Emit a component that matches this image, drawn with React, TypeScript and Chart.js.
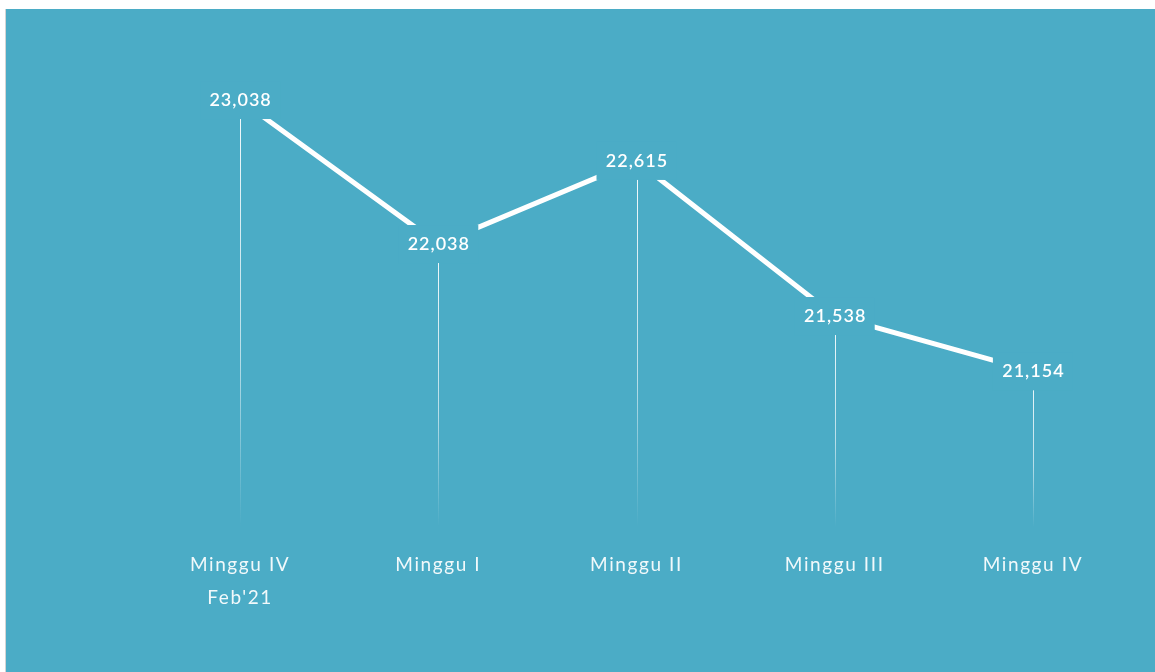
import { useEffect, useRef } from 'react';
import { Chart, registerables } from 'chart.js';

Chart.register(...registerables);

const categories: (string | string[])[] = [["Minggu IV", "Feb'21"], "Minggu I", "Minggu II", "Minggu III", "Minggu IV"];
const weeklyValues = [23038, 22038, 22615, 21538, 21154];
const yMin = 20000;
const yMax = 23500;

const BG = 'rgb(75,172,198)';

const dropLabels = {
  id: 'dropLabels',
  beforeDraw(chart: any) {
    chart.ctx.letterSpacing = '1.6px';
  },
  beforeDatasetsDraw(chart: any) {
    const { ctx, chartArea } = chart;
    const meta = chart.getDatasetMeta(0);
    ctx.save();
    meta.data.forEach((pt: any) => {
      const end = chartArea.bottom - 10;
      const g = ctx.createLinearGradient(0, pt.y, 0, end);
      g.addColorStop(0, 'rgba(255,255,255,0.95)');
      g.addColorStop(0.6, 'rgba(255,255,255,0.6)');
      g.addColorStop(1, 'rgba(255,255,255,0)');
      ctx.strokeStyle = g;
      ctx.lineWidth = 1;
      const x = Math.round(pt.x) + 0.5;
      ctx.beginPath();
      ctx.moveTo(x, pt.y);
      ctx.lineTo(x, end);
      ctx.stroke();
    });
    ctx.restore();
  },
  afterDatasetsDraw(chart: any) {
    const { ctx } = chart;
    const meta = chart.getDatasetMeta(0);
    ctx.save();
    meta.data.forEach((pt: any, i: number) => {
      ctx.fillStyle = BG;
      ctx.fillRect(pt.x - 40, pt.y - 19, 80, 38);
      ctx.letterSpacing = '1px';
      ctx.font = '600 18px Lato';
      ctx.fillStyle = '#ffffff';
      ctx.textAlign = 'center';
      ctx.textBaseline = 'middle';
      ctx.fillText(weeklyValues[i].toLocaleString('en-US'), pt.x + 0.5, pt.y);
    });
    ctx.restore();
  },
};

export default function App() {
  const ref = useRef<HTMLCanvasElement | null>(null);
  useEffect(() => {
    if (!ref.current) return;
    const chart = new Chart(ref.current, {
      type: 'line',
      data: {
        labels: categories,
        datasets: [
          {
            data: weeklyValues,
            borderColor: '#ffffff',
            borderWidth: 5,
            pointRadius: 0,
            tension: 0,
            fill: false,
          },
        ],
      },
      options: {
        animation: false,
        responsive: true,
        maintainAspectRatio: false,
        layout: { padding: { left: 135, right: 23, top: 24.5, bottom: 0 } },
        plugins: { legend: { display: false }, tooltip: { enabled: false } },
        scales: {
          x: {
            offset: true,
            grid: { display: false, drawTicks: false },
            border: { display: false },
            ticks: {
              color: 'rgba(255,255,255,0.92)',
              font: { family: 'Lato', size: 19, lineHeight: '33px' as any },
              padding: 11,
              maxRotation: 0,
              autoSkip: false,
            },
            afterFit: (s: any) => {
              s.height = 134.5;
            },
          },
          y: { display: false, min: yMin, max: yMax },
        },
      },
      plugins: [dropLabels],
    });
    return () => chart.destroy();
  }, []);
  return (
    <div
      style={{
        position: 'absolute',
        left: 5,
        top: 9,
        width: 1149,
        height: 663,
        borderLeft: '1px solid #d4d4d4',
        background: BG,
      }}
    >
      <canvas ref={ref} />
    </div>
  );
}
